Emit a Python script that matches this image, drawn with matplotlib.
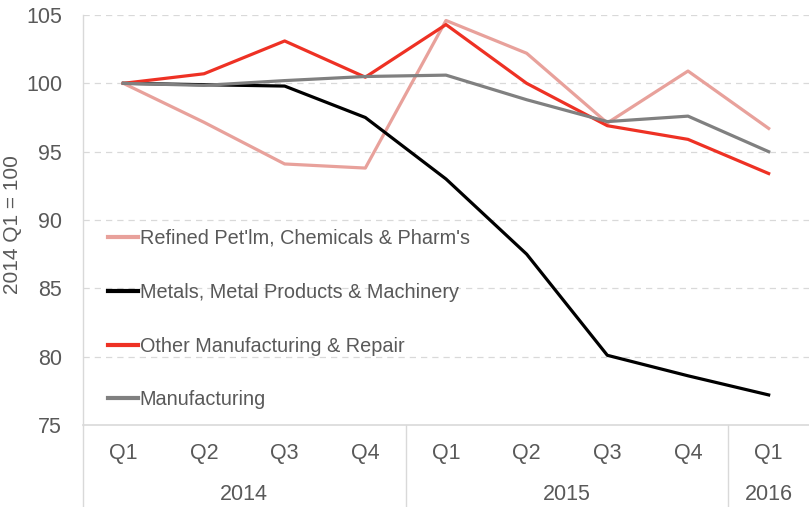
import matplotlib
matplotlib.use("Agg")
import matplotlib.pyplot as plt
from matplotlib.lines import Line2D

quarters = ["Q1", "Q2", "Q3", "Q4", "Q1", "Q2", "Q3", "Q4", "Q1"]
years = ["2014", "2015", "2016"]
year_counts = [4, 4, 1]

refined = [100, 97.15, 94.1, 93.8, 104.6, 102.2, 97.1, 100.9, 96.7]
metals = [100, 99.9, 99.8, 97.5, 93.0, 87.5, 80.1, 78.6, 77.2]
other = [100, 100.7, 103.1, 100.45, 104.3, 100.0, 96.9, 95.9, 93.4]
manuf = [100, 99.85, 100.2, 100.5, 100.6, 98.8, 97.2, 97.6, 95.0]

names = ["Refined Pet'lm, Chemicals & Pharm's",
         "Metals, Metal Products & Machinery",
         "Other Manufacturing & Repair",
         "Manufacturing"]
colors = ["#E8A19B", "#000000", "#EE3124", "#808080"]

plt.rcParams['font.family'] = ['Liberation Sans', 'DejaVu Sans']

fig = plt.figure(figsize=(8.09, 5.07), dpi=100)
ax = fig.add_axes([83/809, 1 - 425/507, 1 - 83/809, (425 - 15)/507])

x = list(range(len(quarters)))
series = [refined, metals, other, manuf]
for vals, c, n in zip(series, colors, names):
    ax.plot(x, vals, color=c, lw=2.3, label=n, zorder=3)

ax.set_xlim(-0.5, len(quarters) - 0.5)
ax.set_ylim(75, 105)
ax.set_yticks([75, 80, 85, 90, 95, 100, 105])
for yv in [80, 85, 90, 95, 100, 105]:
    ax.axhline(yv, color="#D9D9D9", lw=0.9, ls=(0, (5, 4)), zorder=1)

for s in ["top", "right"]:
    ax.spines[s].set_visible(False)
ax.spines["left"].set_color("#D9D9D9")
ax.spines["bottom"].set_color("#D9D9D9")
ax.spines["left"].set_linewidth(1.0)
ax.spines["bottom"].set_linewidth(1.2)

ax.tick_params(axis="y", length=0, labelsize=15.5, labelcolor="#595959", pad=15)
ax.set_xticks(x)
ax.set_xticklabels(quarters, fontsize=15.5, color="#595959")
ax.tick_params(axis="x", length=0, pad=13)
ax.set_ylabel("2014 Q1 = 100", fontsize=15, color="#595959")
ax.yaxis.label.set_va("center")
ax.yaxis.set_label_coords(-(83 - 13) / 726, 0.49)

# year labels and separators
trans = ax.get_xaxis_transform()
start = 0
bot = -(507 - 425) / 410
ax.plot([-0.5, -0.5], [0, bot], transform=trans, color="#D9D9D9", lw=1.0, clip_on=False)
for yr, cnt in zip(years, year_counts):
    center = start + (cnt - 1) / 2
    ax.text(center, -(494 - 425) / 410, yr, transform=trans, ha="center", va="center",
            fontsize=15.5, color="#595959")
    end = start + cnt - 0.5
    if end < len(quarters) - 0.5:
        ax.plot([end, end], [0, bot], transform=trans, color="#D9D9D9", lw=1.0, clip_on=False)
    start += cnt

handles = [Line2D([0], [0], color=c, lw=3) for c in colors]
leg = ax.legend(handles, names, loc="upper left", bbox_to_anchor=(25 / 726, (425 - 229) / 410),
                frameon=False, fontsize=14.3, handlelength=1.5, handletextpad=0.1,
                labelspacing=1.75, borderaxespad=0, borderpad=0)
for t in leg.get_texts():
    t.set_color("#595959")

fig.savefig("out.png", dpi=100)
